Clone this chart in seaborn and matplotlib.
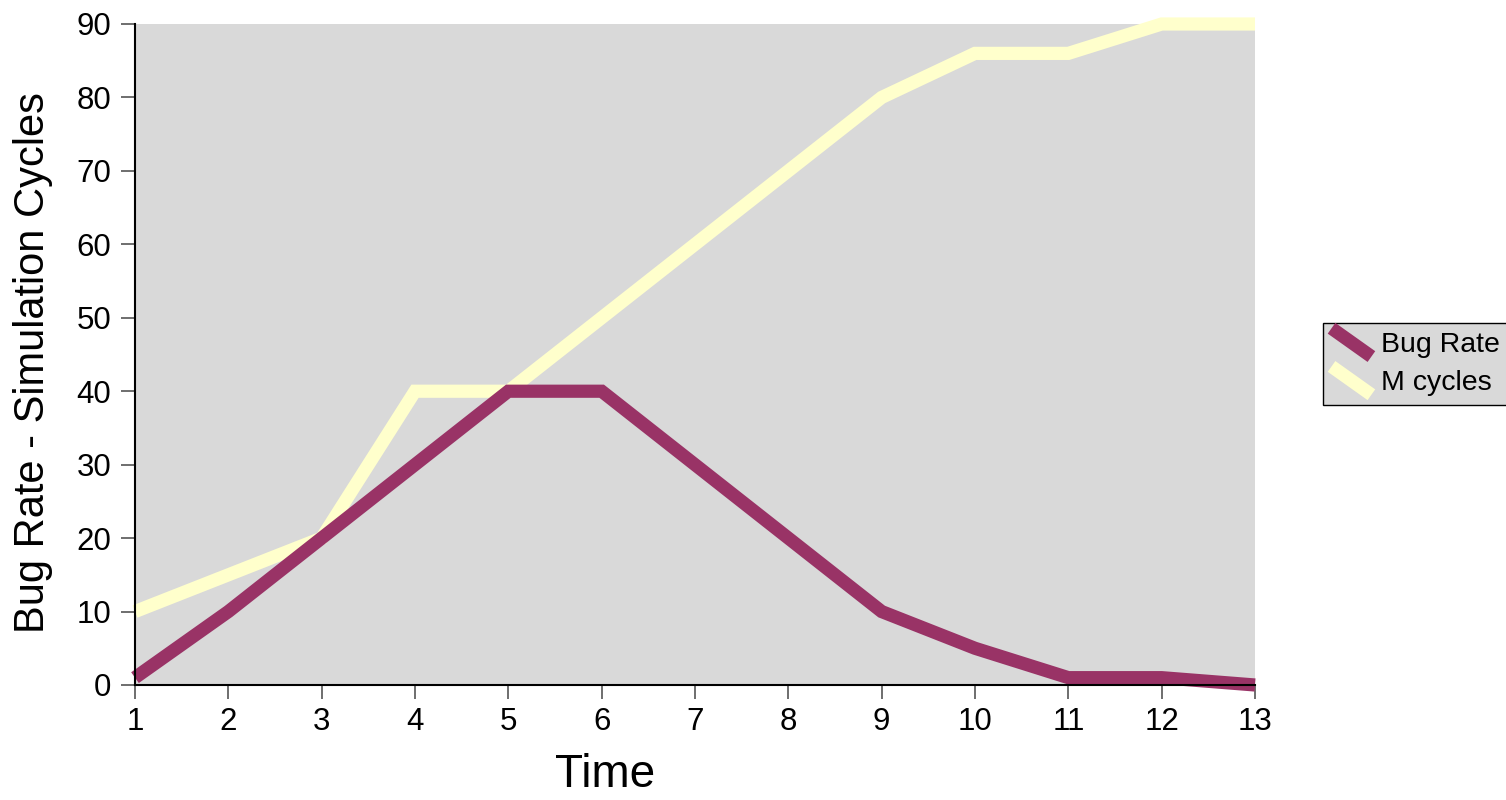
import matplotlib
matplotlib.use("Agg")

import matplotlib.pyplot as plt
import pandas as pd
import seaborn as sns
from matplotlib.legend_handler import HandlerBase
from matplotlib.lines import Line2D

time = list(range(1, 14))
bug_rate = [1, 10, 20, 30, 40, 40, 30, 20, 10, 5, 1, 1, 0]
m_cycles = [10, 15, 20, 40, 40, 50, 60, 70, 80, 86, 86, 90, 90]
series_names = ["Bug Rate", "M cycles"]
series_colors = {"Bug Rate": "#993366", "M cycles": "#ffffcc"}

df = pd.DataFrame({"Time": time * 2,
                   "value": bug_rate + m_cycles,
                   "series": ["Bug Rate"] * 13 + ["M cycles"] * 13})


class DiagonalHandler(HandlerBase):
    # legend keys are drawn as short diagonal strokes, like the original
    def create_artists(self, legend, orig_handle, xdescent, ydescent, width, height, fontsize, trans):
        x0, x1 = -xdescent, -xdescent + width
        y0, y1 = -ydescent - 0.15 * height, -ydescent + 1.15 * height
        line = Line2D([x0, x1], [y1, y0], color=orig_handle.get_color(),
                      linewidth=orig_handle.get_linewidth(), solid_capstyle="butt",
                      transform=trans)
        return [line]


sns.set_style("white")
plt.rcParams["font.family"] = ["Liberation Sans", "DejaVu Sans"]
plt.rcParams["text.color"] = "black"
plt.rcParams["axes.labelcolor"] = "black"

fig = plt.figure(figsize=(15.06, 8), dpi=100)
ax = fig.add_axes([135 / 1506, 1 - 685 / 800, 1120 / 1506, 661 / 800])
ax.set_facecolor("#d9d9d9")

sns.lineplot(data=df, x="Time", y="value", hue="series", hue_order=series_names,
             palette=series_colors, linewidth=9.5, ax=ax, clip_on=False, legend=False)
for line, z in zip(ax.lines, [4, 3]):
    line.set_zorder(z)
    line.set_solid_joinstyle("miter")
    line.set_solid_capstyle("butt")

ax.set_xlim(1, 13)
ax.set_ylim(0, 90)
ax.set_xticks(time)
ax.set_yticks(range(0, 91, 10))
for side in ["top", "right"]:
    ax.spines[side].set_visible(False)
for side in ["left", "bottom"]:
    ax.spines[side].set_color("black")
    ax.spines[side].set_linewidth(1.5)
    ax.spines[side].set_zorder(5)
ax.tick_params(axis="both", direction="out", length=10, width=1.2, color="#555555",
               labelcolor="black", labelsize=22.5, left=True, bottom=True)
ax.tick_params(axis="y", pad=7)
ax.tick_params(axis="x", pad=6)

ax.set_xlabel("Time", fontsize=33)
ax.xaxis.set_label_coords(0.42, -0.103)
ax.set_ylabel("Bug Rate - Simulation Cycles", fontsize=30)
ax.yaxis.set_label_coords(-0.073, 0.488)

handles = [Line2D([], [], color=series_colors[n], linewidth=9.5) for n in series_names]
leg = fig.legend(handles, series_names, loc="center left",
                 bbox_to_anchor=(1323 / 1506, 1 - 364 / 800), bbox_transform=fig.transFigure,
                 fontsize=20.5, frameon=True, fancybox=False, facecolor="#d9d9d9",
                 edgecolor="black", handlelength=1.4, handleheight=0.8, borderpad=0.3,
                 labelspacing=0.4, handletextpad=0.35, borderaxespad=0,
                 handler_map={Line2D: DiagonalHandler()})
leg.get_frame().set_linewidth(1)
leg.get_frame().set_alpha(1)

fig.savefig("out.png", dpi=100)
